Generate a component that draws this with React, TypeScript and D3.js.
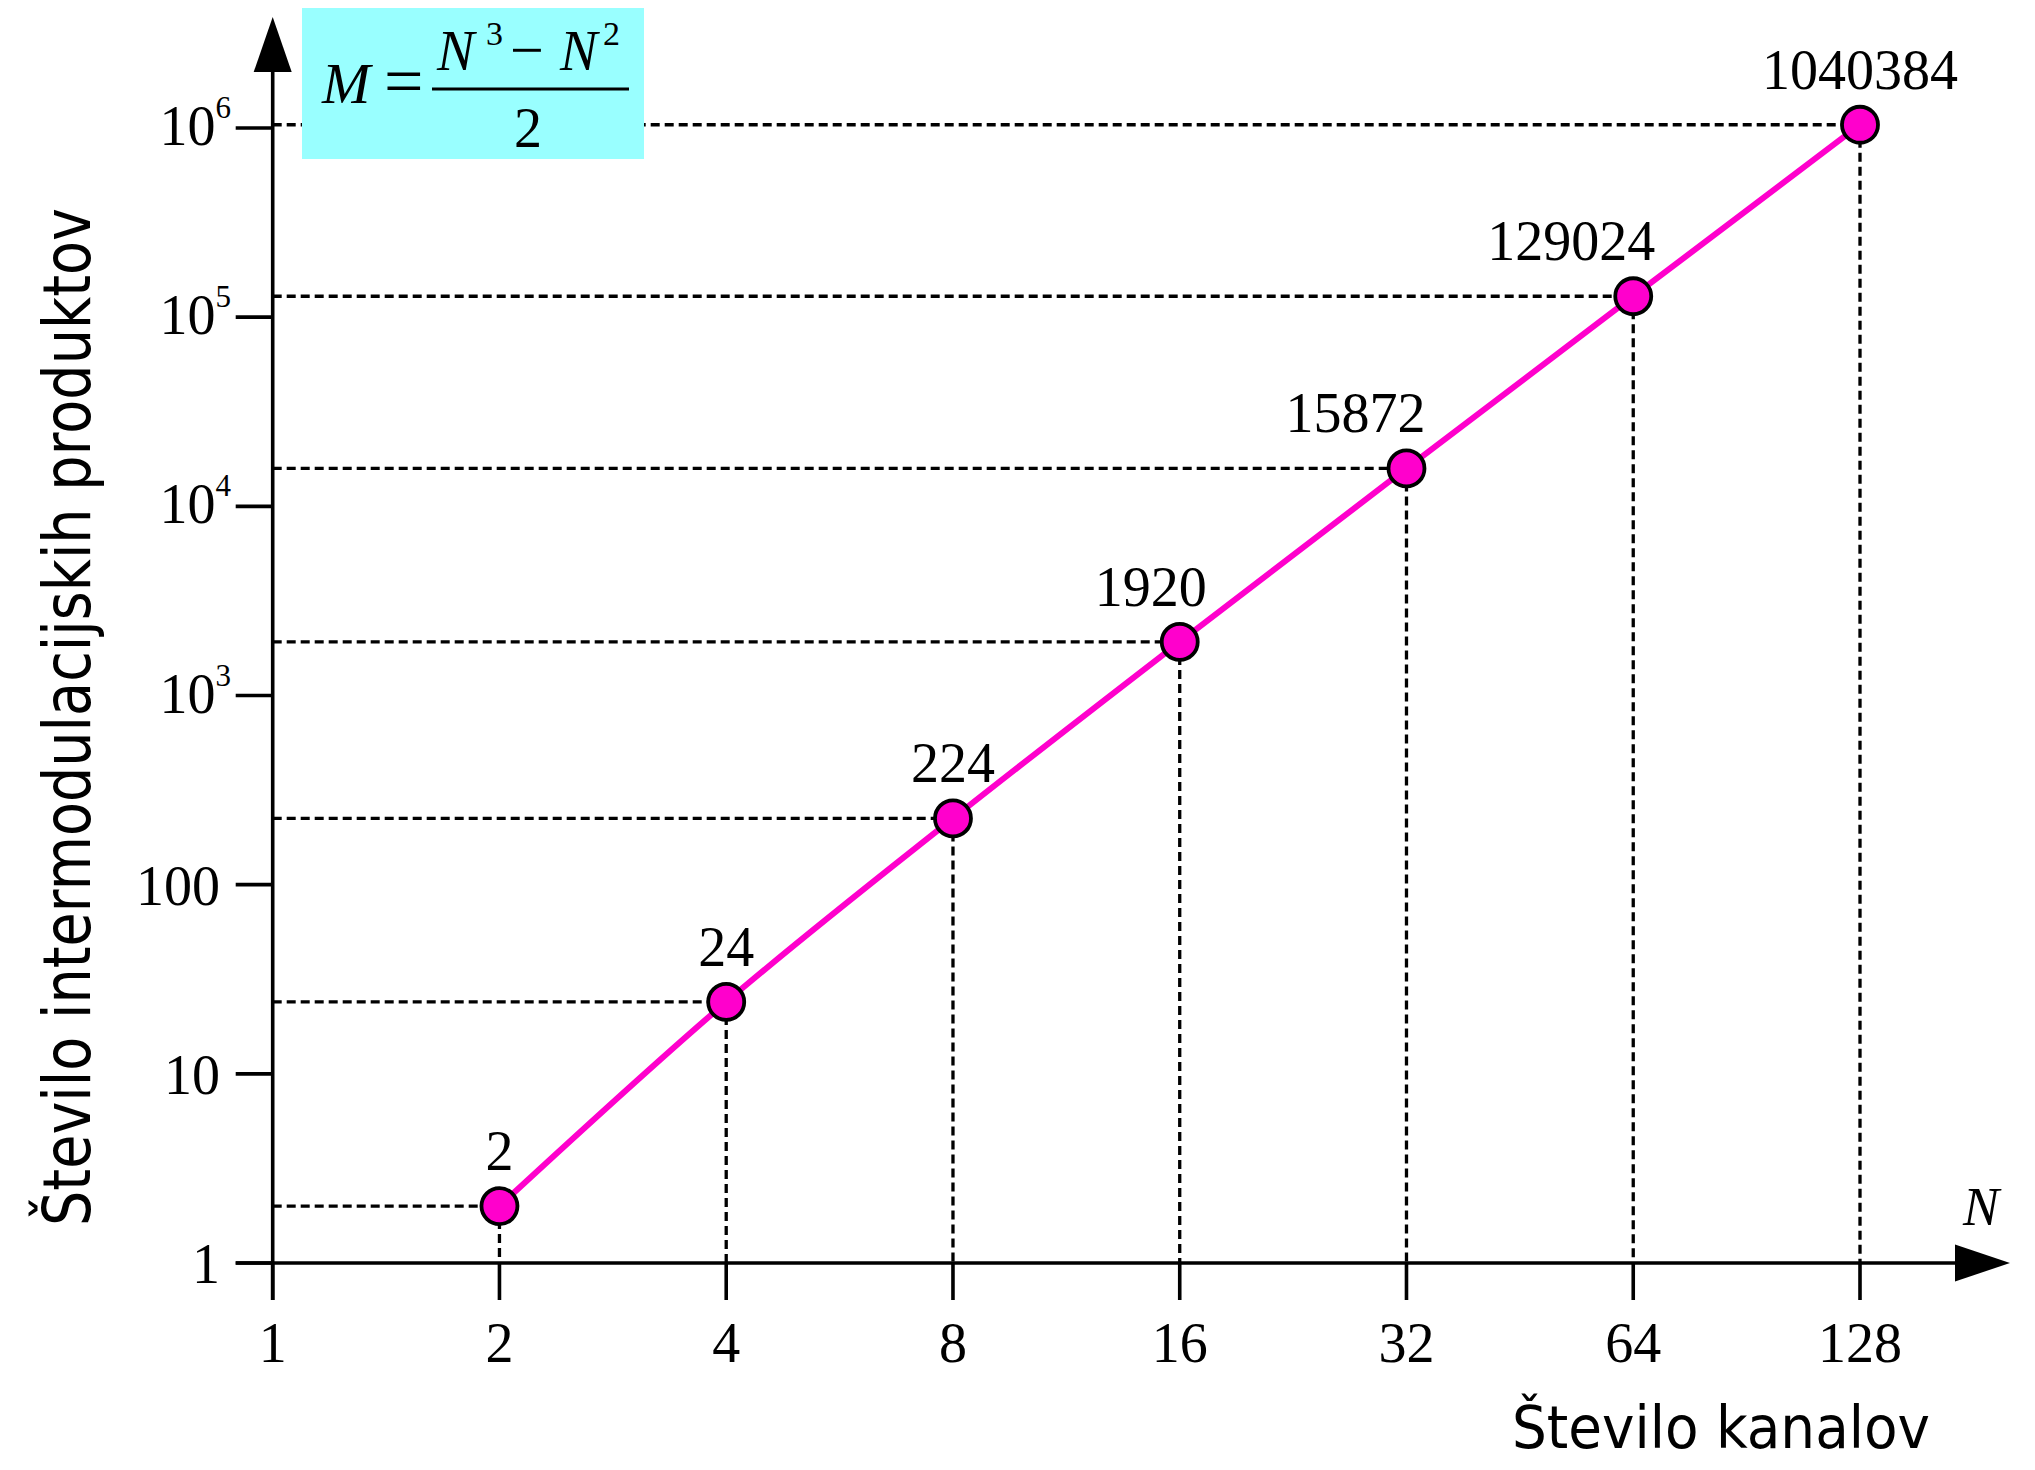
import React from "react";
import * as d3 from "d3";

// Number of channels N and the resulting count of intermodulation products M = (N^3 - N^2) / 2
const channels = [2, 4, 8, 16, 32, 64, 128];
const products = [2, 24, 224, 1920, 15872, 129024, 1040384];

// Axis tick values
const xTickValues = [1, 2, 4, 8, 16, 32, 64, 128];
const yTickValues = [1, 10, 100, 1000, 10000, 100000, 1000000];

const xAxisTitle = "Število kanalov";
const yAxisTitle = "Število intermodulacijskih produktov";

const W = 2035;
const H = 1470;

const SERIF = "'Liberation Serif', 'Times New Roman', serif";
const SANS = "'DejaVu Sans', Tahoma, Verdana, sans-serif";
const MAGENTA = "#ff00cc";

// Horizontal nudges for the value labels so they clear the rising curve
const labelShift = [0, 0, 0, -29, -51, -62, 0];

export default function App() {
  const x = d3.scaleLog().base(2).domain([1, 128]).range([272.7, 1860]);
  const y = d3.scaleLog().base(10).domain([1, 1e6]).range([1263, 128]);

  const points = channels.map((n, i) => ({ n, m: products[i] }));

  const line = d3
    .line<{ n: number; m: number }>()
    .x((d) => x(d.n))
    .y((d) => y(d.m))
    .curve(d3.curveMonotoneX);

  const axisX0 = x(1);
  const axisY0 = y(1);
  const tickLen = 37;
  const axisW = 3.6;

  return (
    <svg
      width={W}
      height={H}
      viewBox={`0 0 ${W} ${H}`}
      style={{ position: "absolute", left: 0, top: 0, display: "block", background: "#fff" }}
    >
      <rect x={0} y={0} width={W} height={H} fill="#fff" />

      {/* dashed guide lines from each point to both axes */}
      <g stroke="#000" strokeWidth={3.3} strokeDasharray="9 5" fill="none">
        {points.map((d, i) => (
          <g key={i}>
            <line x1={axisX0} x2={x(d.n)} y1={y(d.m)} y2={y(d.m)} />
            <line x1={x(d.n)} x2={x(d.n)} y1={y(d.m)} y2={axisY0} />
          </g>
        ))}
      </g>

      {/* formula box */}
      <rect x={302} y={8} width={342} height={151} fill="#99ffff" />
      <g fontFamily={SERIF} fill="#000">
        <text x={322} y={103} fontSize={58} fontStyle="italic">M</text>
        <text x={384} y={105} fontSize={70}>=</text>
        <line x1={432} x2={629} y1={89} y2={89} stroke="#000" strokeWidth={3} />
        <text x={437} y={70} fontSize={56} fontStyle="italic">N</text>
        <text x={486} y={45} fontSize={34}>3</text>
        <text x={510} y={70} fontSize={60}>−</text>
        <text x={560} y={70} fontSize={56} fontStyle="italic">N</text>
        <text x={603} y={45} fontSize={34}>2</text>
        <text x={528} y={147} fontSize={56} textAnchor="middle">2</text>
      </g>

      {/* axes */}
      <g stroke="#000" strokeWidth={axisW}>
        <line x1={axisX0} x2={axisX0} y1={axisY0 + tickLen} y2={60} />
        <line x1={axisX0 - tickLen} x2={1960} y1={axisY0} y2={axisY0} />
        {xTickValues.map((v) => (
          <line key={`xt${v}`} x1={x(v)} x2={x(v)} y1={axisY0} y2={axisY0 + tickLen} />
        ))}
        {yTickValues.map((v) => (
          <line key={`yt${v}`} x1={axisX0 - tickLen} x2={axisX0} y1={y(v)} y2={y(v)} />
        ))}
      </g>
      <path d={`M${axisX0},17 L${axisX0 - 19},72 L${axisX0 + 19},72 Z`} fill="#000" />
      <path d={`M2010,${axisY0} L1955,${axisY0 - 18.5} L1955,${axisY0 + 18.5} Z`} fill="#000" />

      {/* x tick labels */}
      <g fontFamily={SERIF} fontSize={56} fill="#000" textAnchor="middle">
        {xTickValues.map((v) => (
          <text key={`xl${v}`} x={x(v)} y={1362}>
            {v}
          </text>
        ))}
      </g>

      {/* y tick labels */}
      <g fontFamily={SERIF} fontSize={56} fill="#000" textAnchor="end">
        {yTickValues.map((v) => {
          const e = Math.round(Math.log10(v));
          if (v < 1000) {
            return (
              <text key={`yl${v}`} x={220} y={y(v) + 20}>
                {v}
              </text>
            );
          }
          return (
            <text key={`yl${v}`} x={231} y={y(v) + 17}>
              10
              <tspan fontSize={31} dy={-27}>
                {e}
              </tspan>
            </text>
          );
        })}
      </g>

      {/* curve */}
      <path d={line(points) || ""} fill="none" stroke={MAGENTA} strokeWidth={6} />

      {/* markers */}
      <g fill={MAGENTA} stroke="#000" strokeWidth={3.8}>
        {points.map((d, i) => (
          <circle key={i} cx={x(d.n)} cy={y(d.m)} r={18} />
        ))}
      </g>

      {/* value labels */}
      <g fontFamily={SERIF} fontSize={56} fill="#000" textAnchor="middle">
        {points.map((d, i) => (
          <text key={i} x={x(d.n) + labelShift[i]} y={y(d.m) - 36}>
            {d.m}
          </text>
        ))}
      </g>

      {/* axis titles */}
      <text x={1963} y={1225} fontFamily={SERIF} fontSize={54} fontStyle="italic" fill="#000">
        N
      </text>
      <text
        x={1512}
        y={1448}
        fontFamily={SANS}
        fontSize={59}
        fill="#000"
        textLength={418}
        lengthAdjust="spacingAndGlyphs"
      >
        {xAxisTitle}
      </text>
      <text
        transform="translate(90,717) rotate(-90)"
        fontFamily={SANS}
        fontSize={66}
        fill="#000"
        textAnchor="middle"
        textLength={1018}
        lengthAdjust="spacingAndGlyphs"
      >
        {yAxisTitle}
      </text>
    </svg>
  );
}
